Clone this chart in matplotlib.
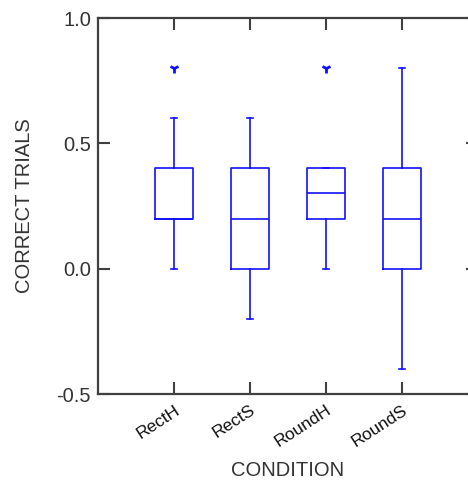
import matplotlib
matplotlib.use("Agg")
import matplotlib.pyplot as plt

# box summary
conditions = ["RectH", "RectS", "RoundH", "RoundS"]
q1 = [0.2, 0.0, 0.2, 0.0]
med = [0.2, 0.2, 0.3, 0.2]
q3 = [0.4, 0.4, 0.4, 0.4]
whislo = [0.0, -0.2, 0.0, -0.4]
whishi = [0.6, 0.6, 0.4, 0.8]
fliers = [[0.8], [], [0.8], []]

yticks = [-0.5, 0.0, 0.5, 1.0]

plt.rcParams['font.family'] = ['Liberation Sans', 'DejaVu Sans']

stats = []
for i, name in enumerate(conditions):
    stats.append(dict(label=name, q1=q1[i], med=med[i], q3=q3[i],
                      whislo=whislo[i], whishi=whishi[i], fliers=fliers[i]))

fig = plt.figure(figsize=(4.68, 4.83), dpi=100)
ax = fig.add_axes([98/468, 89/483, 380/468, 376/483])

blue = "#1010ff"
ax.bxp(stats, positions=range(1, 5), widths=0.49, capwidths=0.08,
       boxprops=dict(color=blue, lw=1.2),
       medianprops=dict(color=blue, lw=1.2),
       whiskerprops=dict(color=blue, lw=1.2),
       capprops=dict(color=blue, lw=1.2),
       flierprops=dict(marker='1', markeredgecolor=blue, markersize=7, markeredgewidth=2))

ax.set_xlim(0, 5)
ax.set_ylim(-0.5, 1.0)
ax.set_yticks(yticks)
ax.set_yticklabels([f"{v:.1f}" for v in yticks])
ax.set_xticks(range(1, 5))
ax.set_xticklabels(conditions, rotation=33, ha='right', va='top',
                   rotation_mode='anchor', fontsize=12.5, color='#111111')

for s in ax.spines.values():
    s.set_color('#404040')
    s.set_linewidth(1.6)

ax.tick_params(direction='in', length=8.5, width=1.5, color='#404040',
               top=True, right=True)
ax.tick_params(axis='y', labelsize=14.5, labelcolor='#333333', pad=5)
ax.tick_params(axis='x', pad=6)

ax.set_ylabel("CORRECT TRIALS", fontsize=14.5, color='#333333', labelpad=16)
ax.set_xlabel("CONDITION", fontsize=14.5, color='#333333', labelpad=8)

fig.savefig("out.png", dpi=100)
